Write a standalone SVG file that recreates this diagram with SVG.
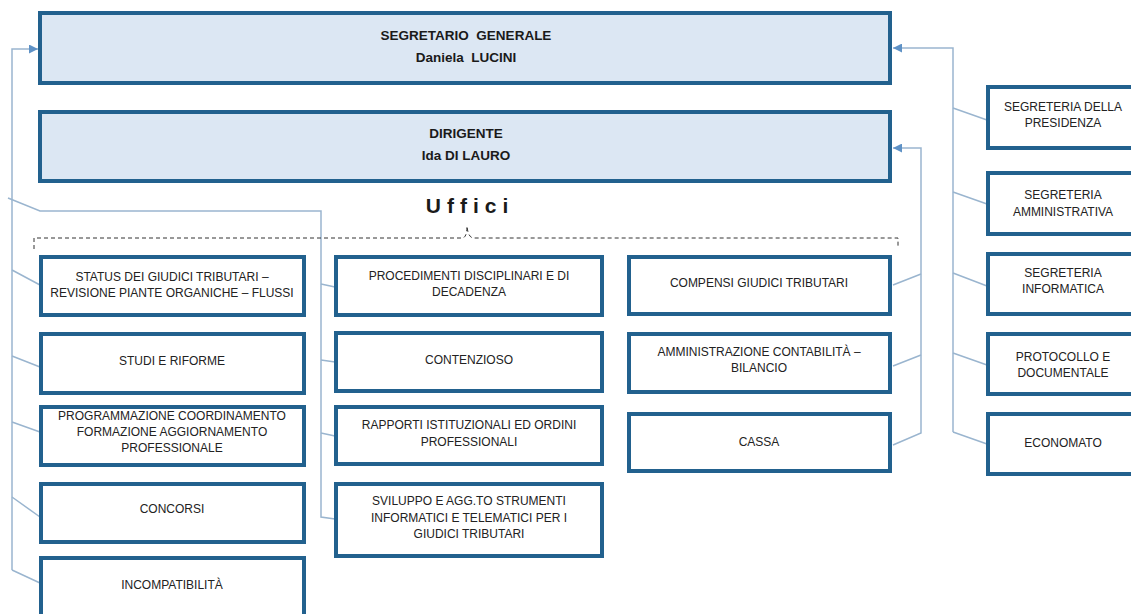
<svg xmlns="http://www.w3.org/2000/svg" width="1131" height="614" viewBox="0 0 1131 614">
<style>
.box{fill:#ffffff;stroke:#22618e;stroke-width:4}
.head{fill:#dce7f3;stroke:#22618e;stroke-width:4}
.t{font-family:"Liberation Sans",Arial,sans-serif;font-size:12px;fill:#222;text-anchor:middle}
.h{font-family:"Liberation Sans",Arial,sans-serif;font-size:13.5px;font-weight:bold;fill:#1a1a1a;text-anchor:middle}
.c{fill:none;stroke:#9ab5cf;stroke-width:1.5}
</style>
<defs>
<marker id="arr" viewBox="0 0 10 10" refX="10" refY="5" markerWidth="10" markerHeight="9" markerUnits="userSpaceOnUse" orient="auto">
<path d="M0,0 L10,5 L0,10 z" fill="#5f92c6"/>
</marker>
</defs>
<rect width="1131" height="614" fill="#ffffff"/>
<g id="connectors">
<path class="c" d="M12,570 L12,49 L38,49" marker-end="url(#arr)"/>
<path class="c" d="M12,270 L40,285 M12,356 L40,367 M12,422 L40,432 M12,497 L40,517 M12,570 L40,583"/>
<path class="c" d="M8,198 L40,211 L321,211 L321,517 L335,519"/>
<path class="c" d="M321,284 L335,287 M321,360 L335,362 M321,433 L335,436"/>
<path class="c" d="M953,432 L953,48 L893,48" marker-end="url(#arr)"/>
<path class="c" d="M953,108 L987,120 M953,192 L987,204 M953,273 L987,286 M953,353 L987,365 M953,432 L987,444"/>
<path class="c" d="M893,445 L921,433 L921,148 L893,148" marker-end="url(#arr)"/>
<path class="c" d="M921,274 L893,285 M921,355 L893,366"/>
</g>
<g id="uffici">
<text x="470" y="213" font-family="'Liberation Sans',Arial,sans-serif" font-size="21" font-weight="bold" letter-spacing="6" text-anchor="middle" fill="#1a1a1a">Uffici</text>
<path d="M34,249 L34,238 L462,238 Q467,238 467,226 Q468,238 474,238 L898,238 L898,248" fill="none" stroke="#333" stroke-width="1" stroke-dasharray="4,3"/>
</g>
<g id="segretario"><rect class="head" x="40" y="13" width="850" height="70"/>
<text class="h" x="466" y="40">SEGRETARIO&#160; GENERALE</text><text class="h" x="466" y="62">Daniela&#160; LUCINI</text></g>
<g id="dirigente"><rect class="head" x="40" y="112" width="850" height="69"/>
<text class="h" x="466" y="138">DIRIGENTE</text><text class="h" x="466" y="160">Ida DI LAURO</text></g>

<g id="status"><rect class="box" x="41" y="257" width="263" height="58"/>
<text class="t" x="172" y="281">STATUS DEI GIUDICI TRIBUTARI –</text><text class="t" x="172" y="297">REVISIONE PIANTE ORGANICHE – FLUSSI</text></g>
<g id="studi"><rect class="box" x="41" y="334" width="263" height="59"/>
<text class="t" x="172" y="365">STUDI E RIFORME</text></g>
<g id="programmazione"><rect class="box" x="41" y="407" width="263" height="58"/>
<text class="t" x="172" y="420">PROGRAMMAZIONE COORDINAMENTO</text><text class="t" x="172" y="436">FORMAZIONE AGGIORNAMENTO</text><text class="t" x="172" y="452">PROFESSIONALE</text></g>
<g id="concorsi"><rect class="box" x="41" y="484" width="263" height="58"/>
<text class="t" x="172" y="513">CONCORSI</text></g>
<g id="incompatibilita"><rect class="box" x="41" y="558" width="263" height="62"/>
<text class="t" x="172" y="589">INCOMPATIBILITÀ</text></g>

<g id="procedimenti"><rect class="box" x="336" y="257" width="266" height="58"/>
<text class="t" x="469" y="280">PROCEDIMENTI DISCIPLINARI E DI</text><text class="t" x="469" y="296">DECADENZA</text></g>
<g id="contenzioso"><rect class="box" x="336" y="333" width="266" height="58"/>
<text class="t" x="469" y="364">CONTENZIOSO</text></g>
<g id="rapporti"><rect class="box" x="336" y="407" width="266" height="57"/>
<text class="t" x="469" y="429">RAPPORTI ISTITUZIONALI ED ORDINI</text><text class="t" x="469" y="446">PROFESSIONALI</text></g>
<g id="sviluppo"><rect class="box" x="336" y="484" width="266" height="72"/>
<text class="t" x="469" y="505">SVILUPPO E AGG.TO STRUMENTI</text><text class="t" x="469" y="522">INFORMATICI E TELEMATICI PER I</text><text class="t" x="469" y="538">GIUDICI TRIBUTARI</text></g>

<g id="compensi"><rect class="box" x="629" y="257" width="261" height="57"/>
<text class="t" x="759" y="287">COMPENSI GIUDICI TRIBUTARI</text></g>
<g id="amministrazione"><rect class="box" x="629" y="334" width="261" height="58"/>
<text class="t" x="759" y="356">AMMINISTRAZIONE CONTABILITÀ –</text><text class="t" x="759" y="372">BILANCIO</text></g>
<g id="cassa"><rect class="box" x="629" y="414" width="261" height="57"/>
<text class="t" x="759" y="446">CASSA</text></g>

<g id="presidenza"><rect class="box" x="988" y="87" width="152" height="61"/>
<text class="t" x="1063" y="111">SEGRETERIA DELLA</text><text class="t" x="1063" y="127">PRESIDENZA</text></g>
<g id="amministrativa"><rect class="box" x="988" y="173" width="152" height="61"/>
<text class="t" x="1063" y="199">SEGRETERIA</text><text class="t" x="1063" y="216">AMMINISTRATIVA</text></g>
<g id="informatica"><rect class="box" x="988" y="254" width="152" height="60"/>
<text class="t" x="1063" y="277">SEGRETERIA</text><text class="t" x="1063" y="293">INFORMATICA</text></g>
<g id="protocollo"><rect class="box" x="988" y="334" width="152" height="60"/>
<text class="t" x="1063" y="361">PROTOCOLLO E</text><text class="t" x="1063" y="377">DOCUMENTALE</text></g>
<g id="economato"><rect class="box" x="988" y="414" width="152" height="60"/>
<text class="t" x="1063" y="447">ECONOMATO</text></g>
</svg>
